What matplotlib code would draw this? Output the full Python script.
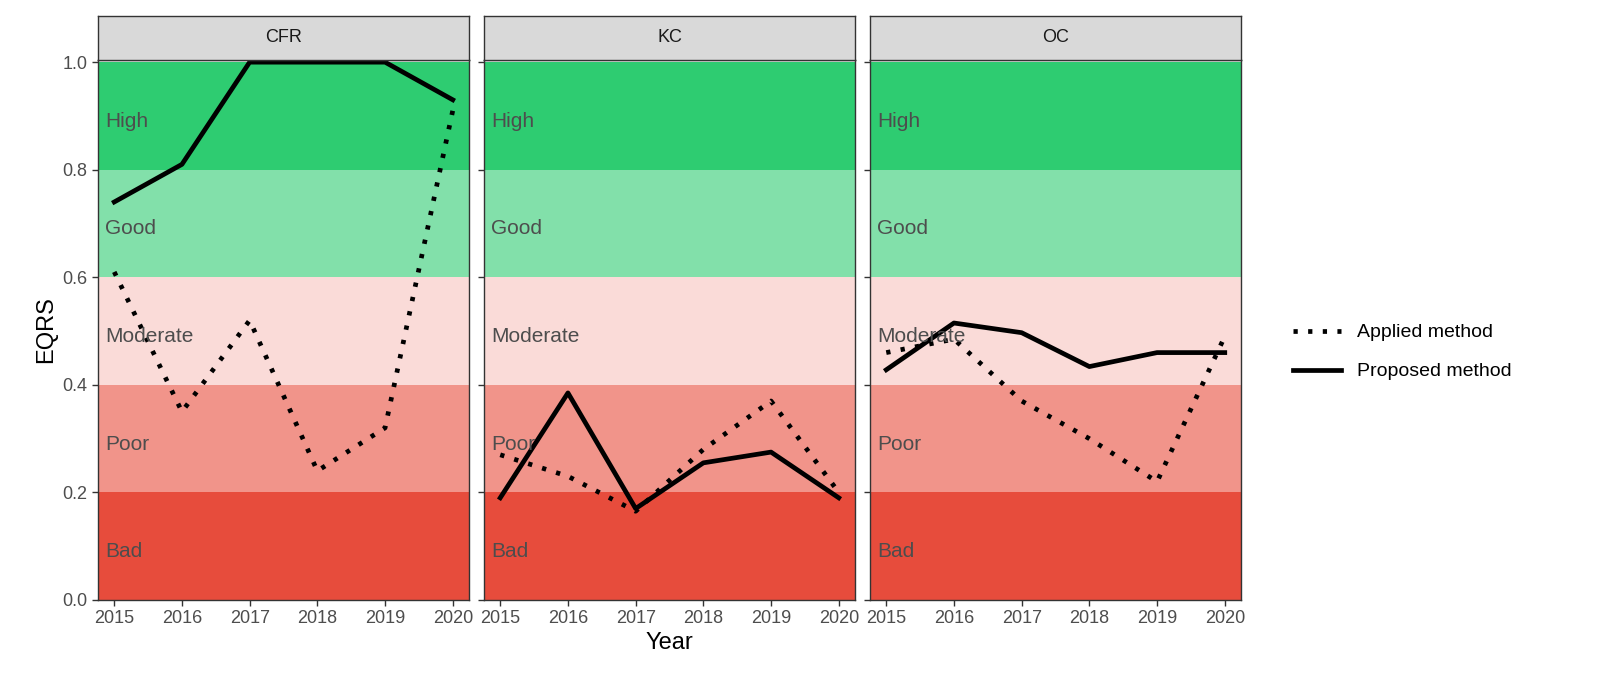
import matplotlib
matplotlib.use("Agg")
import matplotlib.pyplot as plt
from matplotlib.lines import Line2D

years = [2015, 2016, 2017, 2018, 2019, 2020]
panels = ["CFR", "KC", "OC"]
proposed = {
    "CFR": [0.74, 0.81, 1.0, 1.0, 1.0, 0.93],
    "KC": [0.19, 0.385, 0.17, 0.255, 0.275, 0.19],
    "OC": [0.428, 0.515, 0.497, 0.434, 0.46, 0.46],
}
applied = {
    "CFR": [0.61, 0.35, 0.52, 0.24, 0.32, 0.91],
    "KC": [0.27, 0.23, 0.165, 0.28, 0.37, 0.2],
    "OC": [0.46, 0.485, 0.37, 0.30, 0.22, 0.49],
}
bands = [("Bad", 0.0, 0.2, "#E74C3C"), ("Poor", 0.2, 0.4, "#F1948A"),
         ("Moderate", 0.4, 0.6, "#FADBD8"), ("Good", 0.6, 0.8, "#82E0AA"),
         ("High", 0.8, 1.0, "#2ECC71")]

plt.rcParams['font.family'] = ['Liberation Sans', 'DejaVu Sans']
fig = plt.figure(figsize=(16, 7), dpi=100)
lefts = [98, 484, 870]
W = 371
dot = (0, (0.9, 2.2))
for i, p in enumerate(panels):
    ax = fig.add_axes([lefts[i]/1600, 100/700, W/1600, 540/700])
    for name, lo, hi, c in bands:
        ax.axhspan(lo, hi, color=c, lw=0)
        ax.text(2014.87, (lo+hi)/2 - 0.01, name, color="#4d4d4d", fontsize=15, va="center", ha="left")
    ax.plot(years, applied[p], color="black", lw=3.4, linestyle=dot)
    ax.plot(years, proposed[p], color="black", lw=3.4)
    ax.set_xlim(2014.76, 2020.24)
    ax.set_ylim(0, 1.004)
    ax.set_xticks(years)
    ax.set_yticks([0, 0.2, 0.4, 0.6, 0.8, 1.0])
    ax.set_yticklabels(["0.0", "0.2", "0.4", "0.6", "0.8", "1.0"] if i == 0 else [])
    ax.tick_params(labelsize=13, length=4, width=1, colors="#333333", labelcolor="#4d4d4d")
    for s in ax.spines.values():
        s.set_color("#333333"); s.set_linewidth(1)
    if i == 0:
        ax.set_ylabel("EQRS", fontsize=17)
    if i == 1:
        ax.set_xlabel("Year", fontsize=17, labelpad=3)
    sax = fig.add_axes([lefts[i]/1600, 640/700, W/1600, 44/700])
    sax.set_facecolor("#D9D9D9")
    sax.set_xticks([]); sax.set_yticks([])
    for s in sax.spines.values():
        s.set_color("#333333"); s.set_linewidth(1)
    sax.text(0.5, 0.5, p, ha="center", va="center", fontsize=13, color="#1a1a1a", transform=sax.transAxes)

handles = [Line2D([], [], color="black", lw=3.4, linestyle=dot),
           Line2D([], [], color="black", lw=3.4)]
fig.legend(handles, ["Applied method", "Proposed method"], loc="center left",
           bbox_to_anchor=(1275/1600, 1-352/700), frameon=False, fontsize=14,
           handlelength=2.5, labelspacing=1.1)
fig.savefig("out.png", dpi=100)
